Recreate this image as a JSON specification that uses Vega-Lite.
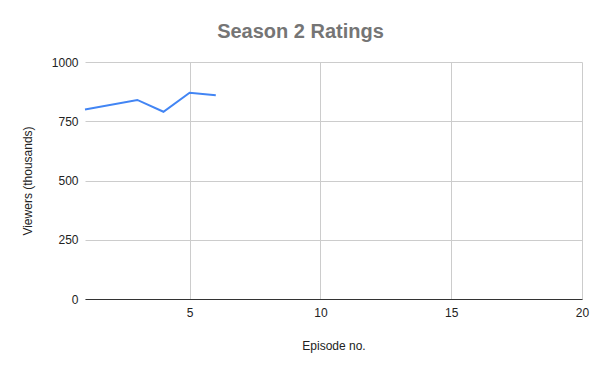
{
  "$schema": "https://vega.github.io/schema/vega-lite/v6.json",
  "autosize": {"type": "none"},
  "padding": {"left": 85, "top": 62, "right": 18, "bottom": 72},
  "width": 497,
  "height": 237,
  "background": "white",
  "title": {
    "text": "Season 2 Ratings",
    "font": "Liberation Sans",
    "fontSize": 20,
    "fontWeight": "bold",
    "color": "#757575",
    "anchor": "middle",
    "dx": -33,
    "offset": 14
  },
  "config": {
    "view": {"stroke": null},
    "axis": {
      "labelFont": "Liberation Sans",
      "titleFont": "Liberation Sans",
      "labelFontSize": 12,
      "titleFontSize": 12,
      "titleFontWeight": "normal",
      "labelColor": "#222222",
      "titleColor": "#222222",
      "gridColor": "#cccccc",
      "ticks": false
    }
  },
  "data": {
    "values": [
      {"episode": 1, "viewers": 800},
      {"episode": 3, "viewers": 840},
      {"episode": 4, "viewers": 790},
      {"episode": 5, "viewers": 870},
      {"episode": 6, "viewers": 860}
    ]
  },
  "mark": {"type": "line", "color": "#4285F4", "strokeWidth": 2},
  "encoding": {
    "x": {
      "field": "episode",
      "type": "quantitative",
      "scale": {"domain": [1, 20], "nice": false, "zero": false},
      "axis": {
        "title": "Episode no.",
        "values": [5, 10, 15, 20],
        "domain": true,
        "domainColor": "#333333",
        "labelFlush": false,
        "labelPadding": 8,
        "titlePadding": 22
      }
    },
    "y": {
      "field": "viewers",
      "type": "quantitative",
      "scale": {"domain": [0, 1000], "nice": false},
      "axis": {
        "title": "Viewers (thousands)",
        "values": [0, 250, 500, 750, 1000],
        "format": "d",
        "domain": false,
        "labelPadding": 7,
        "titlePadding": 17
      }
    }
  }
}
